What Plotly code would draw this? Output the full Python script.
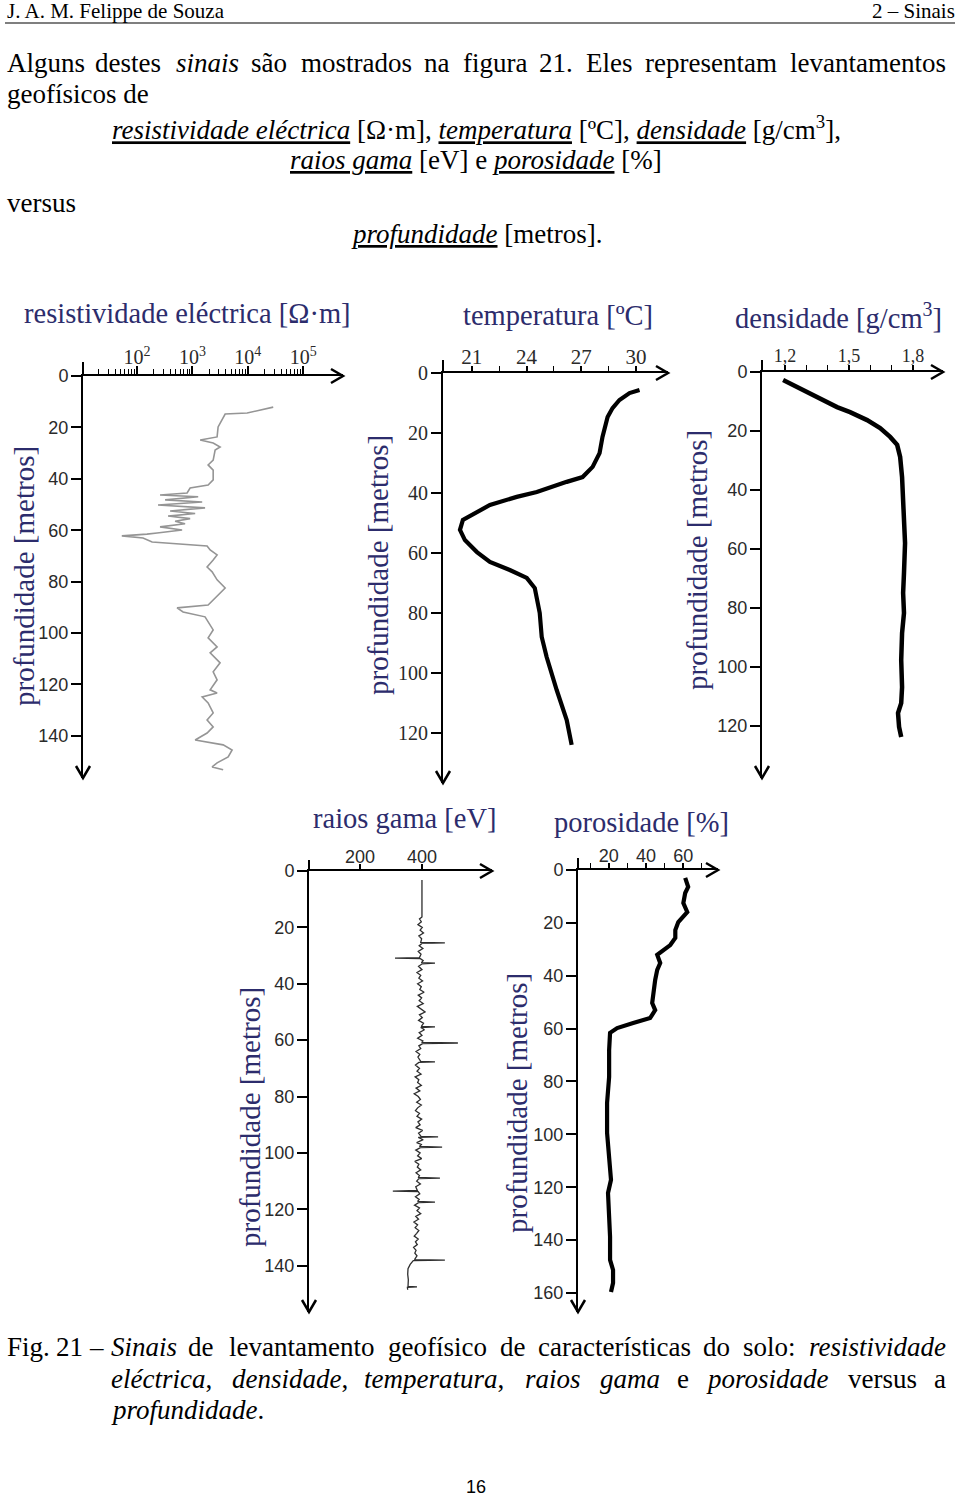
import plotly.graph_objects as go

W, H = 960, 1496
def fx(p): return p / W
def fy(p): return 1 - p / H

SERIF = "Liberation Serif, Times New Roman, serif"
SANS = "Liberation Sans, Arial, sans-serif"
NAVY = "#2c2c6c"
TICKC = "#2a2a2a"

# ---------------- data ----------------
res_depth = [12.1, 14.4, 14.8, 17.1, 19.8, 23.7, 24.9, 26.1, 27.6, 28.8, 32.7, 34.6, 36.6, 40.4, 42.4,
             43.6, 45.5, 46.3, 47.0, 48.2, 49.0, 50.2, 51.3, 52.5, 53.5, 54.5, 55.5, 56.5, 57.5, 58.7,
             59.9, 61.1, 61.5, 62.2, 63.0, 64.6, 66.1, 67.7, 69.6, 71.6, 74.3, 76.2, 79.3, 82.5, 85.2,
             87.1, 89.1, 90.2, 91.8, 93.7, 96.0, 98.8, 101.9, 105.4, 107.7, 111.6, 115.1, 118.2, 122.1,
             123.3, 124.9, 127.2, 131.1, 133.8, 136.5, 138.9, 141.6, 142.4, 143.5, 145.5, 148.2, 150.5,
             152.1, 153.2]
res_value = [28800, 9750, 3900, 3440, 2910, 2790, 1380, 2370, 3160, 2570, 2370, 1920, 2370, 2370, 1920,
             908, 801, 260, 1270, 321, 1500, 239, 1690, 395, 1120, 363, 908, 486, 736, 260,
             650, 230, 151, 53, 128, 187, 1840, 2090, 2790, 2370, 1840, 2270, 2790, 3900, 2910,
             2370, 1920, 528, 678, 1690, 2000, 2370, 1920, 2790, 2090, 3160, 2370, 2790, 2090,
             2790, 1500, 1920, 2370, 1840, 2370, 1840, 1120, 1840, 3590, 5210, 4420, 2790,
             2270, 3590]

temp_depth = [5.7, 6.7, 9.0, 11.7, 14.7, 21.3, 26.7, 31.3, 34.7, 36.3, 39.7, 41.3, 44.0, 46.3, 49.0,
              52.3, 55.7, 59.7, 63.0, 65.7, 68.3, 71.7, 80.0, 88.0, 94.7, 105.7, 115.7, 124.0]
temp_value = [30.19, 29.64, 29.09, 28.71, 28.44, 28.16, 28.0, 27.62, 27.07, 26.2, 24.56, 23.46, 21.99,
              21.28, 20.51, 20.35, 20.62, 21.28, 21.99, 23.08, 24.01, 24.45, 24.72, 24.83, 25.1, 25.65,
              26.2, 26.47]

dens_depth = [2.7, 6.8, 10.5, 11.9, 13.6, 16.3, 19.0, 22.0, 24.7, 28.8, 35.6, 46.8, 58.0, 68.1, 74.9,
              81.7, 88.5, 97.6, 106.8, 112.2, 115.6, 120.3, 123.7]
dens_value = [1.191, 1.303, 1.397, 1.444, 1.505, 1.585, 1.646, 1.693, 1.726, 1.740, 1.749, 1.754, 1.763,
              1.758, 1.754, 1.758, 1.749, 1.745, 1.749, 1.745, 1.730, 1.735, 1.745]

gamma_depth = [3.2, 16.3, 17, 18, 19, 20, 21, 22, 23, 24, 25.3, 25.5, 25.7, 26.5, 27.5, 28.5, 29.5,
               30.7, 30.9, 31.1, 31.8, 32.5, 32.7, 32.9, 33.8, 35, 36, 37, 38, 39, 40, 41, 42, 43, 44,
               45, 46, 47, 48, 49, 50, 51, 52, 53, 54, 55.1, 55.3, 55.5, 56.3, 57.3, 58.3, 59.3, 60.3,
               60.8, 61.0, 61.2, 62, 63, 64, 65, 66, 67.5, 67.7, 67.9, 68.8, 70, 71, 72, 73, 74, 75,
               76, 77, 78, 79, 80, 81, 82, 83, 84, 85, 86, 87, 88, 89, 90, 91, 92, 93, 94.1, 94.3,
               94.5, 95.3, 96.3, 97.0, 97.7, 97.9, 98.1, 99, 100, 101, 102, 103, 104, 105, 106, 107,
               108, 108.7, 108.9, 109.1, 110, 111, 112, 113.3, 113.5, 113.7, 114.5, 115.5, 116.5,
               117.2, 117.4, 117.6, 118.5, 119.5, 120.5, 121.5, 122.5, 123.5, 124.5, 125.5, 126.5,
               127.5, 128.5, 129.5, 130.5, 131.5, 132.5, 133.5, 134.5, 135.5, 136.5, 137.8, 138.0,
               138.2, 139.5, 141, 143, 145, 147.3, 147.5, 147.7, 148.5]
gamma_value = [400, 400, 392, 398, 387, 401, 394, 405, 390, 399, 396, 474, 400, 391, 403, 388, 397,
               392, 313, 395, 404, 398, 442, 401, 389, 400, 384, 396, 390, 402, 386, 398, 393, 407, 388,
               399, 391, 404, 385, 397, 410, 392, 401, 389, 405, 398, 442, 396, 408, 391, 400, 386, 403,
               399, 516, 402, 390, 396, 381, 393, 387, 396, 442, 390, 379, 392, 384, 397, 378, 390, 386,
               398, 381, 393, 375, 388, 395, 383, 398, 386, 379, 392, 384, 399, 387, 394, 380, 402, 389,
               397, 452, 388, 404, 383, 398, 392, 465, 395, 380, 394, 386, 399, 377, 390, 385, 396, 381,
               392, 388, 458, 390, 383, 395, 380, 385, 306, 388, 393, 379, 391,
               386, 442, 389, 376, 392, 384, 396, 380, 389, 374, 386, 378,
               390, 383, 375, 388, 379, 385, 373, 381, 377, 384, 376, 474,
               372, 362, 355, 354, 356, 355, 384, 353, 354]

poro_depth = [3.0, 6.4, 8.7, 12.5, 15.9, 19.7, 22.7, 25.7, 28.4, 30.3, 32.1, 35.2, 37.8, 41.6, 46.5,
              50.3, 53.0, 56.0, 57.9, 59.8, 61.6, 68.1, 78.3, 88.1, 99.5, 109.7, 117.2, 122.2, 129.7,
              138.8, 147.5, 151.3, 156.2, 159.6]
poro_value = [61.0, 62.6, 61.0, 60.0, 62.1, 57.3, 55.7, 55.7, 53.0, 49.2, 46.0, 47.6, 46.0, 44.9, 43.8,
              43.3, 44.9, 42.2, 33.1, 24.5, 20.7, 20.2, 20.2, 19.1, 19.1, 20.2, 21.2, 19.6, 20.2,
              20.7, 20.7, 22.3, 22.3, 21.2]

res_ticks = [100, 1000, 10000, 100000]
res_ticktext = ["10<sup>2</sup>", "10<sup>3</sup>", "10<sup>4</sup>", "10<sup>5</sup>"]
res_minor = [20, 30, 40, 50, 60, 70, 80, 90, 200, 300, 400, 500, 600, 700, 800, 900,
             2000, 3000, 4000, 5000, 6000, 7000, 8000, 9000,
             20000, 30000, 40000, 50000, 60000, 70000, 80000, 90000]
temp_ticks = [21, 24, 27, 30]
temp_ticktext = ["21", "24", "27", "30"]
temp_minor = [22.5, 25.5, 28.5]
dens_ticks = [1.2, 1.5, 1.8]
dens_ticktext = ["1,2", "1,5", "1,8"]
dens_minor = [1.3, 1.4, 1.6, 1.7]
gamma_ticks = [200, 400]
gamma_ticktext = ["200", "400"]
poro_ticks = [20, 40, 60]
poro_ticktext = ["20", "40", "60"]
poro_minor = [10, 30, 50, 70]
depth_ticks_140 = [0, 20, 40, 60, 80, 100, 120, 140]
depth_ticks_120 = [0, 20, 40, 60, 80, 100, 120]
depth_ticks_160 = [0, 20, 40, 60, 80, 100, 120, 140, 160]

# ---------------- panels ----------------
panels = [
    dict(i=1, x0=83, x1=343, y0=376, y1=778, ytop=362, xr=[1.023, 5.72], yr=[156.4, 0], xtype="log",
         xt=res_ticks, xtt=res_ticktext, xfont=dict(family=SERIF, size=20, color=TICKC), minor=res_minor,
         yt=depth_ticks_140, yfont=dict(family=SANS, size=18, color=TICKC), xso=-6, xtl=8,
         x=res_value, y=res_depth, line=dict(color="#959595", width=1.6)),
    dict(i=2, x0=443, x1=668, y0=373, y1=783, ytop=360, xr=[19.42, 31.75], yr=[136.7, 0], xtype="linear",
         xt=temp_ticks, xtt=temp_ticktext, xfont=dict(family=SERIF, size=21, color=TICKC), minor=temp_minor,
         yt=depth_ticks_120, yfont=dict(family=SERIF, size=20, color=TICKC), xso=-6, xtl=5,
         x=temp_value, y=temp_depth, line=dict(color="black", width=4.2)),
    dict(i=3, x0=762, x1=943, y0=372, y1=778, ytop=360, xr=[1.092, 1.941], yr=[137.6, 0], xtype="linear",
         xt=dens_ticks, xtt=dens_ticktext, xfont=dict(family=SERIF, size=18, color=TICKC), minor=dens_minor,
         yt=depth_ticks_120, yfont=dict(family=SANS, size=18, color=TICKC), xso=-4, xtl=5,
         x=dens_value, y=dens_depth, line=dict(color="black", width=4.5)),
    dict(i=4, x0=309, x1=492, y0=871, y1=1312, ytop=860, xr=[35.5, 626], yr=[156.4, 0], xtype="linear",
         xt=gamma_ticks, xtt=gamma_ticktext, xfont=dict(family=SANS, size=18, color=TICKC), minor=None,
         yt=depth_ticks_140, yfont=dict(family=SANS, size=18, color=TICKC), xso=-6, xtl=5,
         x=gamma_value, y=gamma_depth, line=dict(color="#2e2e2e", width=1.3)),
    dict(i=5, x0=578, x1=718, y0=870, y1=1312, ytop=858, xr=[3.5, 78.6], yr=[167.2, 0], xtype="linear",
         xt=poro_ticks, xtt=poro_ticktext, xfont=dict(family=SANS, size=18, color=TICKC), minor=poro_minor,
         yt=depth_ticks_160, yfont=dict(family=SANS, size=18, color=TICKC), xso=-6, xtl=5,
         x=poro_value, y=poro_depth, line=dict(color="black", width=4.2)),
]

fig = go.Figure()
layout = {}
shapes = []
for p in panels:
    s = "" if p["i"] == 1 else str(p["i"])
    xa = dict(domain=[fx(p["x0"]), fx(p["x1"])], range=p["xr"], type=p["xtype"], side="top",
              anchor="y" + s, showline=True, linecolor="black", linewidth=2,
              ticks="outside", ticklen=p["xtl"], tickwidth=1.5, tickcolor="black",
              tickmode="array", tickvals=p["xt"], ticktext=p["xtt"], tickfont=p["xfont"],
              ticklabelstandoff=p["xso"],
              showgrid=False, zeroline=False, fixedrange=True, automargin=False)
    if p["minor"] is not None:
        xa["minor"] = dict(tickmode="array", tickvals=p["minor"], ticks="outside", ticklen=5,
                           tickwidth=1.3, tickcolor="black", showgrid=False)
    ya = dict(domain=[fy(p["y1"]), fy(p["y0"])], range=p["yr"], side="left", anchor="x" + s,
              showline=True, linecolor="black", linewidth=2,
              ticks="outside", ticklen=10, tickwidth=1.5, tickcolor="black",
              tickmode="array", tickvals=p["yt"], tickfont=p["yfont"], ticklabelstandoff=-1,
              showgrid=False, zeroline=False, fixedrange=True, automargin=False)
    layout["xaxis" + s] = xa
    layout["yaxis" + s] = ya
    fig.add_trace(go.Scatter(x=p["x"], y=p["y"], xaxis="x" + s, yaxis="y" + s, mode="lines",
                             line=p["line"], showlegend=False, hoverinfo="skip"))
    # y axis extension above the x axis
    shapes.append(dict(type="line", xref="paper", yref="paper", x0=fx(p["x0"]), x1=fx(p["x0"]),
                       y0=fy(p["ytop"]), y1=fy(p["y0"]), line=dict(color="black", width=2)))
    # arrowheads
    xr_, yr_ = p["x1"], p["y0"]
    shapes.append(dict(type="path", xref="paper", yref="paper",
                       path=f"M {fx(xr_-12)},{fy(yr_-7)} L {fx(xr_)},{fy(yr_)} L {fx(xr_-12)},{fy(yr_+7)}",
                       line=dict(color="black", width=2.5)))
    xd, yd = p["x0"], p["y1"]
    shapes.append(dict(type="path", xref="paper", yref="paper",
                       path=f"M {fx(xd-7)},{fy(yd-12)} L {fx(xd)},{fy(yd)} L {fx(xd+7)},{fy(yd-12)}",
                       line=dict(color="black", width=2.5)))

# header rule
shapes.append(dict(type="line", xref="paper", yref="paper", x0=fx(5), x1=fx(955), y0=fy(23), y1=fy(23),
                   line=dict(color="black", width=1.2)))

annotations = []
def txt(s, x, y, size=27, anchor="left", family=SERIF, color="black", angle=0):
    annotations.append(dict(text=s, x=fx(x), y=fy(y), xref="paper", yref="paper", showarrow=False,
                            xanchor=anchor, yanchor="middle", textangle=angle,
                            font=dict(family=family, size=size, color=color)))

def U(s):
    return f'<i><span style="text-decoration:underline">{s}</span></i>'

# header
txt("J. A. M. Felippe de Souza", 5, 11, size=21)
txt("2 – Sinais", 957, 11, size=21, anchor="right")

# paragraph, justified first line
line1 = [("Alguns", 5, "left"), ("destes", 128, "center"), ("<i>sinais</i>", 207, "center"),
         ("são", 269, "center"), ("mostrados", 356, "center"), ("na", 437, "center"),
         ("figura", 495, "center"), ("21.", 556, "center"), ("Eles", 609, "center"),
         ("representam", 711, "center"), ("levantamentos", 948, "right")]
for w, x, a in line1:
    txt(w, x, 63, anchor=a)
txt("geofísicos de", 5, 94)
txt(U("resistividade eléctrica") + " [Ω·m], " + U("temperatura") + " [ºC], " + U("densidade")
    + " [g/cm<sup>3</sup>],", 476, 128, anchor="center")
txt(U("raios gama") + " [eV] e " + U("porosidade") + " [%]", 476, 160, anchor="center")
txt("versus", 5, 203)
txt(U("profundidade") + " [metros].", 476, 234, anchor="center")

# panel titles
txt("resistividade eléctrica [Ω·m]", 187, 313, size=28.5, anchor="center", color=NAVY)
txt("temperatura [ºC]", 558, 316, size=28.5, anchor="center", color=NAVY)
txt("densidade [g/cm<sup>3</sup>]", 838, 316, size=28.5, anchor="center", color=NAVY)
txt("raios gama [eV]", 405, 818, size=28.5, anchor="center", color=NAVY)
txt("porosidade [%]", 641, 822, size=28.5, anchor="center", color=NAVY)

# depth titles
for (x, y) in [(24, 576), (378, 565), (697, 560), (250, 1117), (517, 1103)]:
    txt("profundidade [metros]", x, y, size=29, anchor="center", color=NAVY, angle=-90)

# caption
cap1 = [("Fig.", 5, "left"), ("21", 69, "center"), ("–", 96, "center"), ("<i>Sinais</i>", 144, "center"),
        ("de", 201, "center"), ("levantamento", 301, "center"), ("geofísico", 437, "center"),
        ("de", 513, "center"), ("características", 614, "center"), ("do", 716, "center"),
        ("solo:", 769, "center"), ("<i>resistividade</i>", 948, "right")]
for w, x, a in cap1:
    txt(w, x, 1347, anchor=a)
cap2 = [("<i>eléctrica</i>,", 109, "left"), ("<i>densidade</i>,", 290, "center"),
        ("<i>temperatura</i>,", 434, "center"), ("<i>raios</i>", 553, "center"),
        ("<i>gama</i>", 630, "center"), ("e", 683, "center"), ("<i>porosidade</i>", 767, "center"),
        ("versus", 882, "center"), ("a", 948, "right")]
for w, x, a in cap2:
    txt(w, x, 1379, anchor=a)
txt("<i>profundidade</i>.", 109, 1410)

txt("16", 476, 1487, size=18, anchor="center", family=SANS)

fig.update_layout(layout)
fig.update_layout(width=W, height=H, margin=dict(l=0, r=0, t=0, b=0, pad=0, autoexpand=False),
                  paper_bgcolor="white", plot_bgcolor="rgba(0,0,0,0)",
                  shapes=shapes, annotations=annotations, showlegend=False)
fig.write_html("out.html")
